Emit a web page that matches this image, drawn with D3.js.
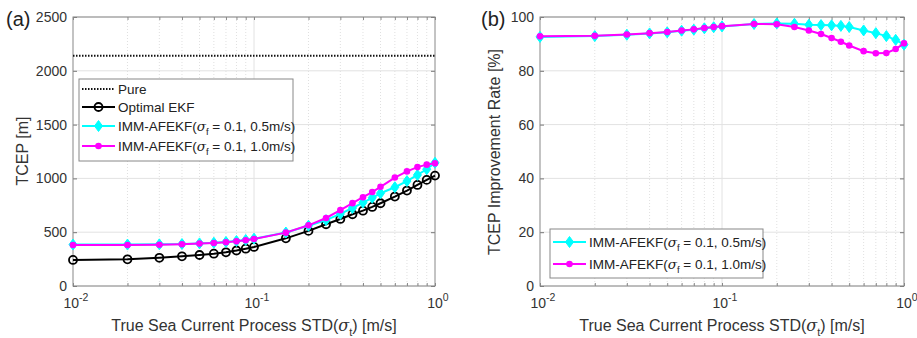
<!DOCTYPE html>
<html><head><meta charset="utf-8">
<script src="https://cdn.jsdelivr.net/npm/d3@7"></script>
<style>body{margin:0;background:#fff}svg{display:block;font-family:Arial,"Liberation Sans",sans-serif}</style>
</head><body>
<svg id="c" width="917" height="338"></svg>
<script>
const xs = [0.01,0.02,0.03,0.04,0.05,0.06,0.07,0.08,0.09,0.1,0.15,0.2,0.25,0.3,0.35,0.4,0.45,0.5,0.6,0.7,0.8,0.9,1.0];
const pureTCEP = 2140;
const ekfTCEP = [242,248,262,276,288,300,313,330,347,363,443,512,574,623,667,700,735,769,831,887,939,986,1026];
const afekf05TCEP = [385,385,387,390,396,402,409,418,428,440,497,560,612,670,725,775,820,862,918,975,1032,1085,1145];
const afekf10TCEP = [381,381,384,388,394,400,406,415,425,437,496,564,632,705,770,825,873,922,1008,1065,1105,1128,1140];
const afekf05Rate = [92.6,92.9,93.4,93.9,94.3,94.9,95.3,95.8,96.2,96.5,97.4,97.6,97.5,97.1,97.0,96.9,96.7,96.3,95.0,94.0,92.9,91.5,89.7];
const afekf10Rate = [92.8,93.0,93.5,94.0,94.4,95.0,95.4,95.9,96.3,96.6,97.4,97.3,96.3,95.0,93.7,92.2,90.8,89.4,87.3,86.5,86.6,88.1,90.2];
const leftYTicks = [0,500,1000,1500,2000,2500];
const rightYTicks = [0,20,40,60,80,100];
const xTickExps = [-2,-1,0];
const legLabels = ["Pure","Optimal EKF","IMM-AFEKF(","IMM-AFEKF("];

const svg = d3.select("#c");
const pTop = 17, pBottom = 286;

function panel(o){
  const g = svg.append("g");
  const x = d3.scaleLog().domain([0.01,1]).range([o.x0,o.x1]);
  const y = d3.scaleLinear().domain(o.ydom).range([pBottom,pTop]);
  const minors = [];
  for (let d=0.01; d<1; d*=10) for (let k=2;k<=9;k++) minors.push(+(d*k).toPrecision(3));
  g.selectAll(".mg").data(minors).enter().append("line")
    .attr("x1",d=>x(d)).attr("x2",d=>x(d)).attr("y1",pTop).attr("y2",pBottom)
    .attr("stroke","#d8d8d8").attr("stroke-width",0.8).attr("stroke-dasharray","1,2");
  g.selectAll(".xg").data([0.1]).enter().append("line")
    .attr("x1",d=>x(d)).attr("x2",d=>x(d)).attr("y1",pTop).attr("y2",pBottom)
    .attr("stroke","#e2e2e2").attr("stroke-width",1);
  g.selectAll(".yg").data(o.yticks).enter().append("line")
    .attr("x1",o.x0).attr("x2",o.x1).attr("y1",d=>y(d)).attr("y2",d=>y(d))
    .attr("stroke","#e2e2e2").attr("stroke-width",1);
  const yAxis = d3.axisLeft(y).tickValues(o.yticks).tickSize(-4).tickPadding(6).tickFormat(d3.format("d"));
  const ya = g.append("g").attr("transform",`translate(${o.x0},0)`).call(yAxis);
  ya.select(".domain").remove();
  ya.selectAll("line").attr("stroke","#777");
  ya.selectAll("text").attr("font-size",14).attr("fill","#333");
  const yr = g.append("g").attr("transform",`translate(${o.x1},0)`).call(d3.axisRight(y).tickValues(o.yticks).tickSize(-4).tickFormat(""));
  yr.select(".domain").remove(); yr.selectAll("line").attr("stroke","#777");
  const xa = g.append("g").attr("transform",`translate(0,${pBottom})`).call(d3.axisBottom(x).tickValues(minors.concat([0.01,0.1,1])).tickSize(-3).tickFormat(""));
  xa.select(".domain").remove(); xa.selectAll("line").attr("stroke","#888");
  const xt = g.append("g").attr("transform",`translate(0,${pTop})`).call(d3.axisTop(x).tickValues(minors.concat([0.01,0.1,1])).tickSize(-3).tickFormat(""));
  xt.select(".domain").remove(); xt.selectAll("line").attr("stroke","#888");
  xTickExps.forEach(e=>{
    const t = g.append("text").attr("x",x(Math.pow(10,e))+3).attr("y",pBottom+22).attr("text-anchor","middle")
      .attr("font-size",14).attr("fill","#333");
    t.append("tspan").text("10");
    t.append("tspan").attr("dy",-7).attr("font-size",10.5).text(e);
  });
  g.append("rect").attr("x",o.x0).attr("y",pTop).attr("width",o.x1-o.x0).attr("height",pBottom-pTop)
    .attr("fill","none").attr("stroke","#888").attr("stroke-width",1);
  const xtl = g.append("text").attr("x",(o.x0+o.x1)/2).attr("y",pBottom+45).attr("text-anchor","middle")
    .attr("font-size",16).attr("fill","#333");
  xtl.append("tspan").text("True Sea Current Process STD(");
  xtl.append("tspan").attr("font-style","italic").attr("font-family","'DejaVu Serif',serif").text("σ");
  xtl.append("tspan").attr("dy",5).attr("font-size",11).text("t");
  xtl.append("tspan").attr("dy",-5).text(") [m/s]");
  g.append("text").attr("transform",`translate(${o.ytx},${o.ytc}) rotate(-90)`)
    .attr("text-anchor","middle").attr("font-size",16).attr("fill","#333").text(o.ytitle);
  g.append("text").attr("x",o.lx).attr("y",26).attr("font-size",20).attr("fill","#222").text(o.letter);
  return {g,x,y};
}

function series(p, data, color, marker, width){
  const line = d3.line().x((d,i)=>p.x(xs[i])).y(d=>p.y(d));
  p.g.append("path").datum(data).attr("d",line).attr("fill","none").attr("stroke",color).attr("stroke-width",width);
  drawMarkers(p.g, data.map((d,i)=>[p.x(xs[i]),p.y(d)]), color, marker);
}
function drawMarkers(g, pts, color, marker){
  pts.forEach(([cx,cy])=>{
    if (marker==="o") g.append("circle").attr("cx",cx).attr("cy",cy).attr("r",4).attr("fill","none").attr("stroke",color).attr("stroke-width",1.8);
    else if (marker==="d") g.append("path").attr("d",`M${cx},${cy-5.5}L${cx+4},${cy}L${cx},${cy+5.5}L${cx-4},${cy}Z`).attr("fill",color).attr("stroke",color).attr("stroke-width",1);
    else if (marker==="dot") g.append("circle").attr("cx",cx).attr("cy",cy).attr("r",3.3).attr("fill",color);
  });
}
function sigmaLabel(t, base, rest){
  t.append("tspan").text(base);
  t.append("tspan").attr("font-style","italic").attr("font-family","'DejaVu Serif',serif").text("σ");
  t.append("tspan").attr("dy",4).attr("font-size",9.5).text("f");
  t.append("tspan").attr("dy",-4).text(rest);
}

const L = panel({x0:73,x1:435,ydom:[0,2500],yticks:leftYTicks,ytitle:"TCEP [m]",ytx:28,ytc:151,lx:6,letter:"(a)"});
L.g.append("line").attr("x1",L.x(0.01)).attr("x2",L.x(1)).attr("y1",L.y(pureTCEP)).attr("y2",L.y(pureTCEP))
  .attr("stroke","#111").attr("stroke-width",1.8).attr("stroke-dasharray","1.5,1.5");
series(L, ekfTCEP, "#000", "o", 2);
series(L, afekf05TCEP, "#00ffff", "d", 2);
series(L, afekf10TCEP, "#ff00ff", "dot", 2);
{
  const g = L.g.append("g");
  g.append("rect").attr("x",79).attr("y",79).attr("width",214).attr("height",82).attr("fill","#fff").attr("stroke","#888");
  const rows = [89,107,126,146];
  const sty = [["#111","dash",null],["#000","solid","o"],["#00ffff","solid","d"],["#ff00ff","solid","dot"]];
  rows.forEach((ry,i)=>{
    const ln = g.append("line").attr("x1",82).attr("x2",115).attr("y1",ry).attr("y2",ry).attr("stroke",sty[i][0]).attr("stroke-width",i===0?1.8:2);
    if (i===0) ln.attr("stroke-dasharray","1.5,1.5");
    if (sty[i][2]) drawMarkers(g, [[98.5,ry]], sty[i][0], sty[i][2]);
    const t = g.append("text").attr("x",118).attr("y",ry+5).attr("font-size",13.5).attr("fill","#222");
    if (i<2) t.text(legLabels[i]);
    else sigmaLabel(t, legLabels[i], i===2?" = 0.1, 0.5m/s)":" = 0.1, 1.0m/s)");
  });
}

const R = panel({x0:540,x1:904,ydom:[0,100],yticks:rightYTicks,ytitle:"TCEP Improvement Rate [%]",ytx:500,ytc:152,lx:481,letter:"(b)"});
series(R, afekf05Rate, "#00ffff", "d", 2);
series(R, afekf10Rate, "#ff00ff", "dot", 2);
{
  const g = R.g.append("g");
  g.append("rect").attr("x",550).attr("y",229).attr("width",213).attr("height",49).attr("fill","#fff").attr("stroke","#888");
  const rows = [242,264];
  const sty = [["#00ffff","d"],["#ff00ff","dot"]];
  rows.forEach((ry,i)=>{
    g.append("line").attr("x1",553).attr("x2",586).attr("y1",ry).attr("y2",ry).attr("stroke",sty[i][0]).attr("stroke-width",2);
    drawMarkers(g, [[569.5,ry]], sty[i][0], sty[i][1]);
    const t = g.append("text").attr("x",589).attr("y",ry+5).attr("font-size",13.5).attr("fill","#222");
    sigmaLabel(t, legLabels[i+2], i===0?" = 0.1, 0.5m/s)":" = 0.1, 1.0m/s)");
  });
}
</script>
</body></html>
